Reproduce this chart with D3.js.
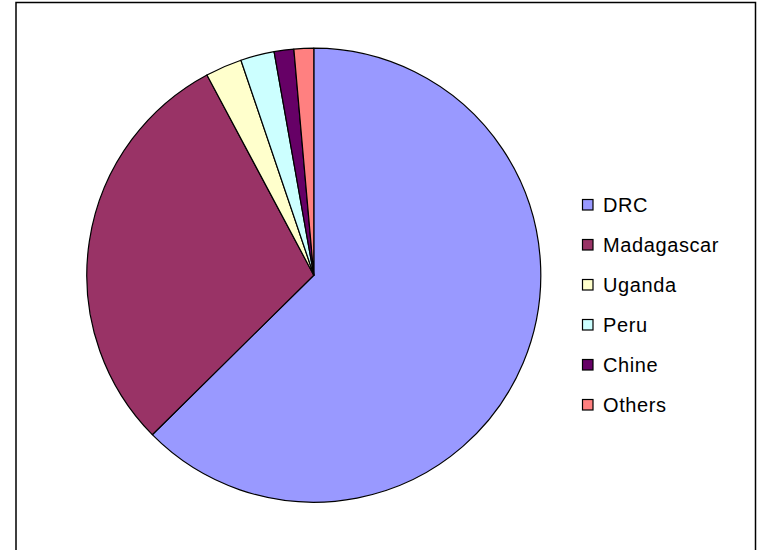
<!DOCTYPE html>
<html>
<head>
<meta charset="utf-8">
<script src="https://cdn.jsdelivr.net/npm/d3@7"></script>
<style>
  html, body { margin: 0; padding: 0; background: #fff; }
  svg { display: block; }
</style>
</head>
<body>
<svg id="chart" width="760" height="550"></svg>
<script>
const categories = ["DRC", "Madagascar", "Uganda", "Peru", "Chine", "Others"];
const values = [62.6, 29.6, 2.6, 2.4, 1.4, 1.4];
const colors = ["#9999FF", "#993366", "#FFFFCC", "#CCFFFF", "#660066", "#FF8080"];

const svg = d3.select("#chart");

// chart frame
svg.append("rect")
  .attr("x", 16).attr("y", 2.5)
  .attr("width", 739.5).attr("height", 560)
  .attr("fill", "#fff").attr("stroke", "#000").attr("stroke-width", 1.5);

const cx = 313.8, cy = 275.2, R = 227;
const data = categories.map((c, i) => ({ name: c, value: values[i] }));

const pie = d3.pie().value(d => d.value).sort(null);
const arc = d3.arc().innerRadius(0).outerRadius(R);
const color = d3.scaleOrdinal().domain(categories).range(colors);

const g = svg.append("g").attr("transform", `translate(${cx},${cy})`);
g.selectAll("path")
  .data(pie(data))
  .join("path")
  .attr("d", arc)
  .attr("fill", d => color(d.data.name))
  .attr("stroke", "#000")
  .attr("stroke-width", 1.2)
  .attr("stroke-linejoin", "round");

// legend
const legend = svg.append("g");
const y = d3.scaleBand().domain(categories).range([185, 425]);
const items = legend.selectAll("g")
  .data(categories)
  .join("g")
  .attr("transform", d => `translate(0,${y(d) + y.bandwidth() / 2})`);
items.append("rect")
  .attr("x", 582.5).attr("y", -5.5)
  .attr("width", 10.5).attr("height", 10.5)
  .attr("fill", d => color(d))
  .attr("stroke", "#000").attr("stroke-width", 1.2);
items.append("text")
  .attr("x", 603).attr("y", 7)
  .attr("font-family", "'Liberation Sans', Arial, sans-serif")
  .attr("font-size", 20)
  .attr("letter-spacing", 0.6)
  .attr("fill", "#000")
  .text(d => d);
</script>
</body>
</html>
